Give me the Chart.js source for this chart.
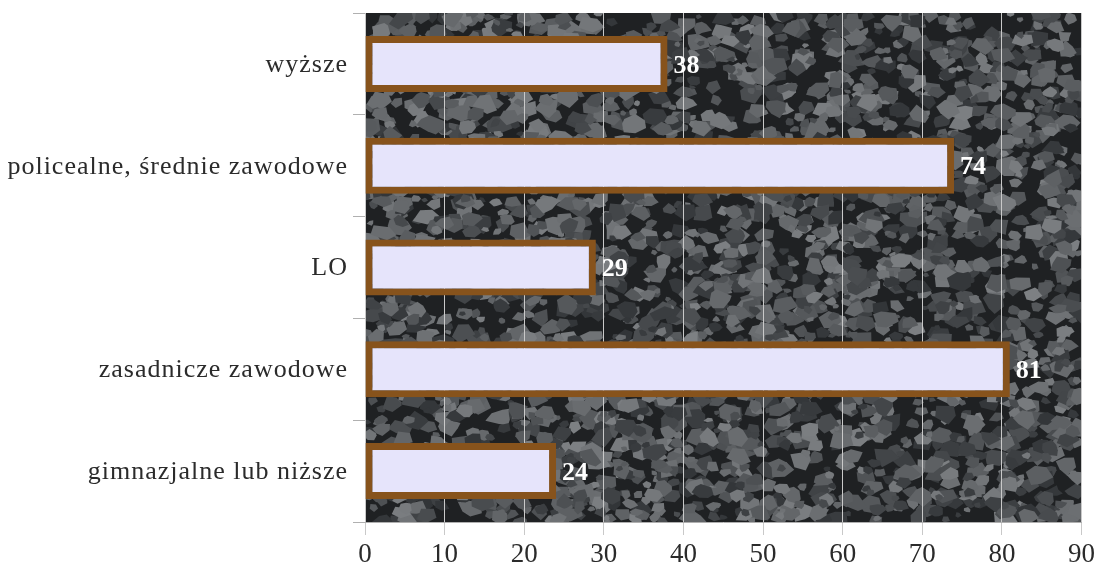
<!DOCTYPE html>
<html>
<head>
<meta charset="utf-8">
<script src="https://cdn.jsdelivr.net/npm/chart.js@4/dist/chart.umd.min.js"></script>
<style>
  html, body { margin: 0; padding: 0; background: #fff; }
  #wrap { width: 1099px; height: 569px; }
</style>
</head>
<body>
<div id="wrap"><canvas id="chart" width="1099" height="569"></canvas></div>
<script>
const categories = ["wyższe", "policealne, średnie zawodowe", "LO", "zasadnicze zawodowe", "gimnazjalne lub niższe"]
const counts = [38, 74, 29, 81, 24]
const xTicks = [0, 10, 20, 30, 40, 50, 60, 70, 80, 90]

// stone-like backdrop for the plot area (deterministic pseudo-texture)
const stoneBackground = {
  id: "stoneBackground",
  beforeDraw(chart) {
    const {ctx, chartArea: a} = chart
    ctx.save()
    ctx.beginPath()
    ctx.rect(a.left, a.top, a.right - a.left, a.bottom - a.top)
    ctx.clip()
    ctx.fillStyle = "#1f2123"
    ctx.fillRect(a.left, a.top, a.right - a.left, a.bottom - a.top)
    let seed = 7
    const rnd = () => {
      seed = (seed * 16807) % 2147483647
      return seed / 2147483647
    }
    for (let i = 0; i < 3200; i++) {
      const x = a.left + rnd() * (a.right - a.left)
      const y = a.top + rnd() * (a.bottom - a.top)
      const r = 3 + rnd() * 8
      const g = Math.round(50 + rnd() * 75)
      ctx.fillStyle = `rgb(${g},${g + 3},${g + 6})`
      ctx.beginPath()
      const n = 5 + Math.floor(rnd() * 3)
      for (let k = 0; k < n; k++) {
        const ang = (k / n) * Math.PI * 2 + rnd() * 0.6
        const rr = r * (0.6 + rnd() * 0.5)
        const px = x + Math.cos(ang) * rr * 1.3
        const py = y + Math.sin(ang) * rr
        if (k === 0) ctx.moveTo(px, py)
        else ctx.lineTo(px, py)
      }
      ctx.closePath()
      ctx.fill()
    }
    ctx.restore()
  },
}

// category labels with the wide letter spacing of the original
const categoryLabels = {
  id: "categoryLabels",
  afterDraw(chart) {
    const {ctx} = chart
    const y = chart.scales.y
    ctx.save()
    ctx.font = "26px 'Liberation Serif', serif"
    ctx.letterSpacing = "1px"
    ctx.fillStyle = "#2b2b2b"
    ctx.textAlign = "right"
    ctx.textBaseline = "middle"
    categories.forEach((c, i) => {
      ctx.fillText(c, 348, y.getPixelForValue(i) + 1)
    })
    ctx.restore()
  },
}

const valueLabels = {
  id: "valueLabels",
  afterDatasetsDraw(chart) {
    const {ctx} = chart
    const meta = chart.getDatasetMeta(0)
    ctx.save()
    ctx.font = "bold 26px 'Liberation Serif', serif"
    ctx.fillStyle = "#ffffff"
    ctx.textAlign = "left"
    ctx.textBaseline = "middle"
    meta.data.forEach((bar, i) => {
      ctx.fillText(String(counts[i]), bar.x + 6, bar.y + 2)
    })
    ctx.restore()
  },
}

new Chart(document.getElementById("chart").getContext("2d"), {
  type: "bar",
  data: {
    labels: categories,
    datasets: [
      {
        data: counts,
        backgroundColor: "#e6e4fb",
        borderColor: "#87531c",
        borderWidth: 7,
        borderSkipped: false,
        barPercentage: 0.55,
        categoryPercentage: 1,
      },
    ],
  },
  options: {
    indexAxis: "y",
    animation: false,
    responsive: false,
    layout: {padding: {top: 13, right: 16, left: 0, bottom: 0}},
    plugins: {
      legend: {display: false},
      tooltip: {enabled: false},
    },
    scales: {
      x: {
        min: 0,
        max: 90,
        afterBuildTicks: (scale) => {
          scale.ticks = xTicks.map((v) => ({value: v}))
        },
        afterFit: (scale) => {
          scale.height = 47
        },
        grid: {
          color: "#c9c9c9",
          lineWidth: 1,
          tickLength: 13,
          drawTicks: true,
        },
        border: {color: "#b0b0b0", width: 1},
        ticks: {
          color: "#2b2b2b",
          padding: 4,
          font: {family: "'Liberation Serif', serif", size: 27},
        },
      },
      y: {
        afterFit: (scale) => {
          scale.width = 365
        },
        grid: {
          offset: true,
          drawOnChartArea: false,
          drawTicks: true,
          tickLength: 12,
          color: "#b0b0b0",
        },
        border: {display: false},
        ticks: {display: false},
      },
    },
  },
  plugins: [stoneBackground, valueLabels, categoryLabels],
})
</script>
</body>
</html>
